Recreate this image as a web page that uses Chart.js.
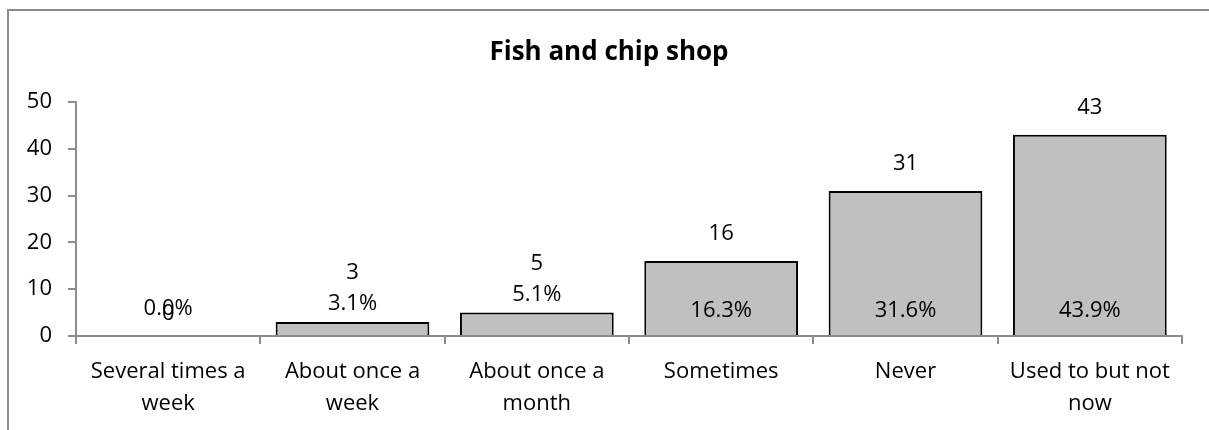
<!DOCTYPE html>
<html>
<head>
<meta charset="utf-8">
<script src="https://cdn.jsdelivr.net/npm/chart.js@4/dist/chart.umd.min.js"></script>
<style>
  body { margin: 0; overflow: hidden; background: #fff; }
  #wrap { position: absolute; left: 0; top: 0; width: 1209px; height: 430px; }
</style>
</head>
<body>
<div id="wrap"><canvas id="chart"></canvas></div>
<script>
const categories = [
  ["Several times a", "week"],
  ["About once a", "week"],
  ["About once a", "month"],
  "Sometimes",
  "Never",
  ["Used to but not", "now"]
];
const counts = [0, 3, 5, 16, 31, 43];
const percents = ["0.0%", "3.1%", "5.1%", "16.3%", "31.6%", "43.9%"];
const yTicks = [0, 10, 20, 30, 40, 50];

const FONT = "'Open Sans', sans-serif";

// gray frame round the chart (only left and top edges are in view)
const framePlugin = {
  id: "frame",
  beforeDraw(chart) {
    const ctx = chart.ctx;
    ctx.save();
    ctx.strokeStyle = "#8c8c8c";
    ctx.lineWidth = 2;
    ctx.beginPath();
    ctx.moveTo(8, chart.height + 5);
    ctx.lineTo(8, 10);
    ctx.lineTo(chart.width + 5, 10);
    ctx.stroke();
    ctx.restore();
  }
};

// draws count above bar and percentage at the base (or above small bars)
const labelPlugin = {
  id: "barLabels",
  afterDatasetsDraw(chart) {
    const ctx = chart.ctx;
    const meta = chart.getDatasetMeta(0);
    const base = chart.scales.y.getPixelForValue(0);
    ctx.save();
    ctx.fillStyle = "#000";
    ctx.font = "22px " + FONT;
    ctx.textAlign = "center";
    ctx.textBaseline = "middle";
    meta.data.forEach((bar, i) => {
      const h = base - bar.y;
      let pctY, cntY;
      if (counts[i] === 0) {
        pctY = base - 27;
        cntY = base - 22;
      } else if (h > 45) {
        pctY = base - 25;
        cntY = bar.y - 27;
      } else {
        pctY = bar.y - 18;
        cntY = pctY - 31;
      }
      ctx.fillText(percents[i], bar.x, pctY);
      ctx.fillText(String(counts[i]), bar.x, cntY);
    });
    ctx.restore();
  }
};

const titlePlugin = {
  id: "titleText",
  afterDraw(chart) {
    const ctx = chart.ctx;
    ctx.save();
    ctx.fillStyle = "#000";
    ctx.font = "bold 26px " + FONT;
    ctx.textAlign = "center";
    ctx.textBaseline = "alphabetic";
    ctx.fillText("Fish and chip shop", 609, 60);
    ctx.restore();
  }
};

new Chart(document.getElementById("chart"), {
  type: "bar",
  data: {
    labels: categories,
    datasets: [{
      data: counts,
      backgroundColor: "#c0c0c0",
      borderColor: "#000",
      borderWidth: 2,
      borderSkipped: "bottom",
      barPercentage: 0.834,
      categoryPercentage: 1
    }]
  },
  options: {
    responsive: true,
    maintainAspectRatio: false,
    animation: false,
    layout: { padding: { top: 102, right: 27, bottom: 0, left: 0 } },
    plugins: {
      legend: { display: false },
      title: { display: false },
      tooltip: { enabled: false }
    },
    scales: {
      x: {
        grid: { display: true, drawOnChartArea: false, drawTicks: true, tickLength: 8, color: "#8c8c8c", lineWidth: 2, offset: true },
        border: { color: "#8c8c8c", width: 2 },
        ticks: { color: "#000", font: { family: FONT, size: 22, lineHeight: 1.48 }, padding: 11, maxRotation: 0, autoSkip: false },
        afterFit(s) { s.height = 94; }
      },
      y: {
        min: 0,
        max: 50,
        afterBuildTicks(s) { s.ticks = yTicks.map(v => ({ value: v })); },
        grid: { display: true, drawOnChartArea: false, drawTicks: true, tickLength: 8, color: "#8c8c8c", lineWidth: 2 },
        border: { color: "#8c8c8c", width: 2 },
        ticks: { color: "#000", font: { family: FONT, size: 22 }, padding: 16 },
        afterFit(s) { s.width = 76; }
      }
    }
  },
  plugins: [framePlugin, labelPlugin, titlePlugin]
});
</script>
</body>
</html>
